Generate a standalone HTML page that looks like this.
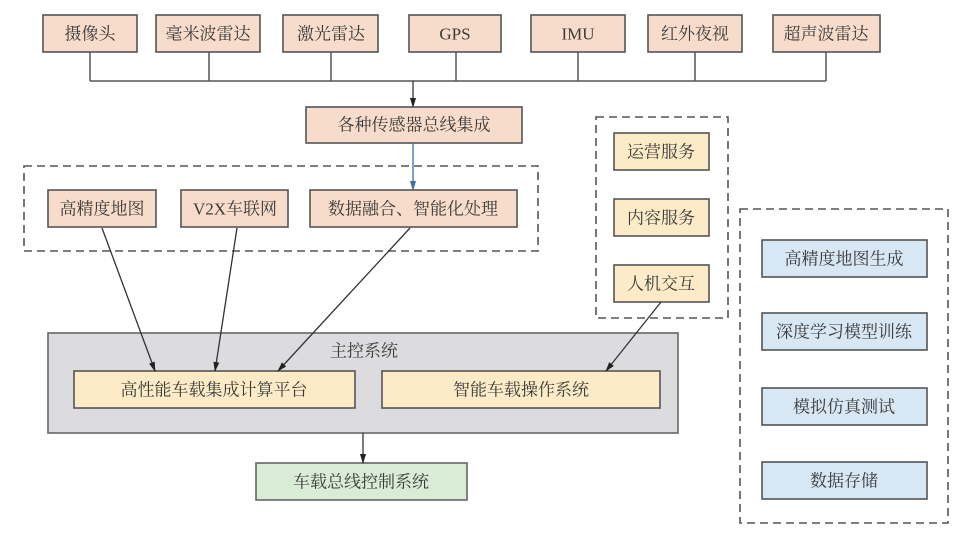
<!DOCTYPE html>
<html><head><meta charset="utf-8"><style>
html,body{margin:0;padding:0;background:#fff;}
svg{display:block;}
text{font-family:"Liberation Serif","Noto Serif CJK SC",serif;font-size:17px;fill:#3a3a3a;text-anchor:middle;dominant-baseline:central;}
</style></head><body>
<svg width="978" height="537" viewBox="0 0 978 537" xmlns="http://www.w3.org/2000/svg">
<defs>
<marker id="a" markerWidth="10" markerHeight="10" refX="9" refY="5" orient="auto" markerUnits="userSpaceOnUse"><path d="M0,2 L10,5 L0,8 Z" fill="#222"/></marker>
<marker id="b" markerWidth="10" markerHeight="10" refX="9" refY="5" orient="auto" markerUnits="userSpaceOnUse"><path d="M0,2 L10,5 L0,8 Z" fill="#3b6db0"/></marker>
</defs>
<g stroke="#555" stroke-width="1.6" fill="#f8dccb">
<rect x="43" y="15" width="94" height="37"/>
<rect x="156" y="15" width="104" height="37"/>
<rect x="283" y="15" width="95" height="37"/>
<rect x="409" y="15" width="92" height="37"/>
<rect x="531" y="15" width="94" height="37"/>
<rect x="648" y="15" width="94" height="37"/>
<rect x="773" y="15" width="107" height="37"/>
</g>
<g stroke="#555" stroke-width="1.5" fill="none">
<path d="M90,52V81M209,52V81M331,52V81M456,52V81M578,52V81M695,52V81M826,52V81M90,81H826"/>
</g>
<line x1="413" y1="81" x2="413" y2="107" stroke="#333" stroke-width="1.3" marker-end="url(#a)"/>
<rect x="306" y="107" width="216" height="36" fill="#f8dccb" stroke="#555" stroke-width="1.6"/>
<line x1="413" y1="143" x2="413" y2="190" stroke="#3b6db0" stroke-width="1.3" marker-end="url(#b)"/>
<g fill="none" stroke="#555" stroke-width="1.6" stroke-dasharray="8,5">
<rect x="24" y="166" width="514" height="85"/>
<rect x="596" y="117" width="132" height="201"/>
<rect x="740" y="209" width="208" height="314"/>
</g>
<g stroke="#555" stroke-width="1.6" fill="#f8dccb">
<rect x="48" y="190" width="108" height="37"/>
<rect x="181" y="190" width="107" height="37"/>
<rect x="310" y="190" width="207" height="37"/>
</g>
<g stroke="#555" stroke-width="1.6" fill="#fcebc6">
<rect x="614" y="133" width="95" height="37"/>
<rect x="614" y="199" width="95" height="37"/>
<rect x="614" y="265" width="95" height="37"/>
</g>
<g stroke="#555" stroke-width="1.6" fill="#d7e7f4">
<rect x="762" y="240" width="165" height="37"/>
<rect x="762" y="313" width="165" height="37"/>
<rect x="762" y="388" width="165" height="37"/>
<rect x="762" y="462" width="165" height="37"/>
</g>
<rect x="48" y="333" width="630" height="100" fill="#dcdcde" stroke="#666" stroke-width="1.6"/>
<rect x="74" y="371" width="281" height="37" fill="#fcebc6" stroke="#555" stroke-width="1.6"/>
<rect x="382" y="371" width="278" height="37" fill="#fcebc6" stroke="#555" stroke-width="1.6"/>
<rect x="256" y="463" width="211" height="37" fill="#d8ecd6" stroke="#666" stroke-width="1.6"/>
<g stroke="#333" stroke-width="1.3" fill="none">
<line x1="102" y1="228" x2="155" y2="371" marker-end="url(#a)"/>
<line x1="237" y1="228" x2="215" y2="371" marker-end="url(#a)"/>
<line x1="410" y1="228" x2="278" y2="371" marker-end="url(#a)"/>
<line x1="661" y1="302" x2="606" y2="371" marker-end="url(#a)"/>
<line x1="363" y1="433" x2="363" y2="463" marker-end="url(#a)"/>
</g>
<text x="90" y="34">摄像头</text>
<text x="208" y="34">毫米波雷达</text>
<text x="331" y="34">激光雷达</text>
<text x="455" y="34">GPS</text>
<text x="578" y="34">IMU</text>
<text x="695" y="34">红外夜视</text>
<text x="826" y="34">超声波雷达</text>
<text x="414" y="125">各种传感器总线集成</text>
<text x="102" y="209">高精度地图</text>
<text x="235" y="209">V2X车联网</text>
<text x="413" y="209">数据融合、智能化处理</text>
<text x="661" y="152">运营服务</text>
<text x="661" y="218">内容服务</text>
<text x="661" y="284">人机交互</text>
<text x="844" y="259">高精度地图生成</text>
<text x="844" y="332">深度学习模型训练</text>
<text x="844" y="407">模拟仿真测试</text>
<text x="844" y="481">数据存储</text>
<text x="364" y="351">主控系统</text>
<text x="214" y="390">高性能车载集成计算平台</text>
<text x="521" y="390">智能车载操作系统</text>
<text x="361" y="482">车载总线控制系统</text>
</svg>
</body></html>
